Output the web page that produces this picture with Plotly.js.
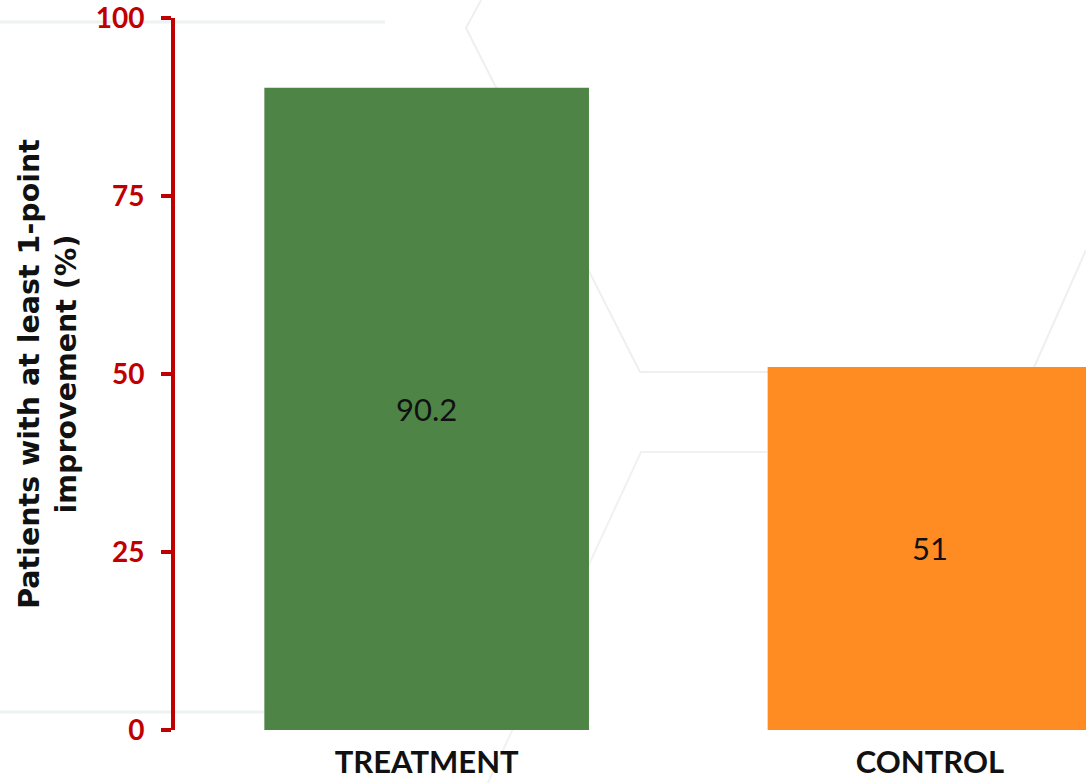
<!DOCTYPE html>
<html>
<head>
<meta charset="utf-8">
<script src="https://cdn.plot.ly/plotly-3.0.1.min.js"></script>
<style>html,body{margin:0;padding:0;background:#fff;}#chart{width:1086px;height:783px;}</style>
</head>
<body>
<div id="chart"></div>
<script>
const categories = ["TREATMENT", "CONTROL"];
const values = [90.2, 51];
const valueLabels = ["90.2", "51"];
const barColors = ["#4f8447", "#fe8c23"];
const yTicks = [0, 25, 50, 75, 100];
const yTitle = "Patients with at least 1-point<br>improvement (%)";

// faint decorative hexagon outlines in the background (plot-area paper coords)
const hexLines = [
  {p: "M -0.192 0.9944 L 0.2305 0.9944", w: 3, c: "#eef2f2"},
  {p: "M 0.336 1.0253 L 0.3194 0.986 L 0.5104 0.5028 L 0.9407 0.5028 L 1.0 0.674", w: 2, c: "#efefef"},
  {p: "M 0.6498 0.3904 L 0.5115 0.3904 L 0.3348 -0.0983", w: 2, c: "#eff2f2"},
  {p: "M -0.203 0.0253 L 0.3787 0.0253", w: 3, c: "#eef2f2"}
];
const shapes = hexLines.map(h => ({type: "path", path: h.p, xref: "paper", yref: "paper",
  line: {color: h.c, width: h.w}, layer: "below"}));

const trace = {
  type: "bar",
  x: categories,
  y: values,
  text: valueLabels,
  textposition: "inside",
  insidetextanchor: "middle",
  textfont: {family: "Lato, sans-serif", size: 31, color: "#111"},
  marker: {color: barColors, line: {width: 0}},
  width: 0.645,
  hoverinfo: "none"
};

const layout = {
  width: 1086, height: 783,
  margin: {l: 175, r: 0, t: 18, b: 53},
  paper_bgcolor: "#ffffff",
  plot_bgcolor: "rgba(0,0,0,0)",
  showlegend: false,
  shapes: shapes,
  xaxis: {
    type: "category",
    range: [-0.5, 1.31],
    showline: false, showgrid: false, zeroline: false,
    ticks: "",
    tickfont: {family: "Lato, sans-serif", size: 31, color: "#111", weight: "bold"},
    ticklabelstandoff: 11,
    fixedrange: true
  },
  yaxis: {
    range: [0, 100],
    tickvals: yTicks,
    ticktext: yTicks.map(String),
    showgrid: false, zeroline: false,
    showline: true, linecolor: "#c00000", linewidth: 4,
    ticks: "outside", ticklen: 10, tickwidth: 4, tickcolor: "#c00000",
    tickfont: {family: "Lato, sans-serif", size: 28, color: "#c00000", weight: "bold"},
    ticklabelstandoff: 11,
    ticklabeloverflow: "allow",
    title: {text: yTitle, font: {family: "DejaVu Sans, sans-serif", size: 28.5, color: "#111", weight: "bold"}, standoff: 12},
    fixedrange: true
  }
};

Plotly.newPlot("chart", [trace], layout, {displayModeBar: false, staticPlot: true});
</script>
</body>
</html>
